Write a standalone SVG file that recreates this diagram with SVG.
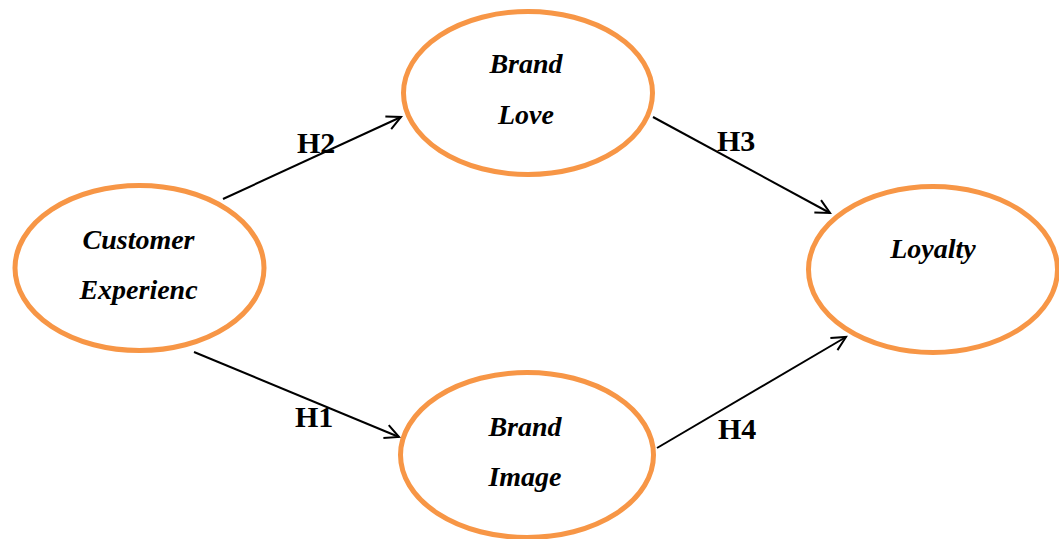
<svg xmlns="http://www.w3.org/2000/svg" width="1059" height="539" viewBox="0 0 1059 539">
<defs>
<style>
.node ellipse{fill:#fff;stroke:#F79646;stroke-width:5}
.nt{font-family:"Liberation Serif","Times New Roman",serif;font-size:28px;font-weight:bold;font-style:italic;fill:#000;text-anchor:middle}
.hl{font-family:"Liberation Serif","Times New Roman",serif;font-size:30px;font-weight:bold;fill:#000}
.edge{stroke:#000;stroke-width:2;fill:none;marker-end:url(#arr)}
</style>
<marker id="arr" markerUnits="userSpaceOnUse" markerWidth="20" markerHeight="20" viewBox="-16 -10 20 20" refX="0" refY="0" orient="auto">
<path d="M-14,-7 L0,0 L-14,7" fill="none" stroke="#000" stroke-width="2"/>
</marker>
</defs>
<rect width="1059" height="539" fill="#fff"/>
<g id="connectors">
<line class="edge" x1="223" y1="199" x2="401" y2="117"/>
<line class="edge" x1="653" y1="117" x2="830" y2="213"/>
<line class="edge" x1="194" y1="352" x2="399" y2="437"/>
<line class="edge" x1="657" y1="448" x2="846" y2="337"/>
<text class="hl" x="297" y="153">H2</text>
<text class="hl" x="717" y="151">H3</text>
<text class="hl" x="295" y="427">H1</text>
<text class="hl" x="718" y="439">H4</text>
</g>
<g id="customer" class="node">
<ellipse cx="139.5" cy="268" rx="124.5" ry="82.5"/>
<text class="nt" x="138.5" y="249">Customer</text>
<text class="nt" x="138.5" y="299">Experienc</text>
</g>
<g id="brandlove" class="node">
<ellipse cx="528" cy="93" rx="124.5" ry="81.5"/>
<text class="nt" x="526" y="73">Brand</text>
<text class="nt" x="526" y="124">Love</text>
</g>
<g id="loyalty" class="node">
<ellipse cx="933" cy="269.5" rx="124.5" ry="83"/>
<text class="nt" x="933" y="258">Loyalty</text>
</g>
<g id="brandimage" class="node">
<ellipse cx="527" cy="455" rx="126.5" ry="82.5"/>
<text class="nt" x="525" y="436">Brand</text>
<text class="nt" x="525" y="486">Image</text>
</g>
</svg>
